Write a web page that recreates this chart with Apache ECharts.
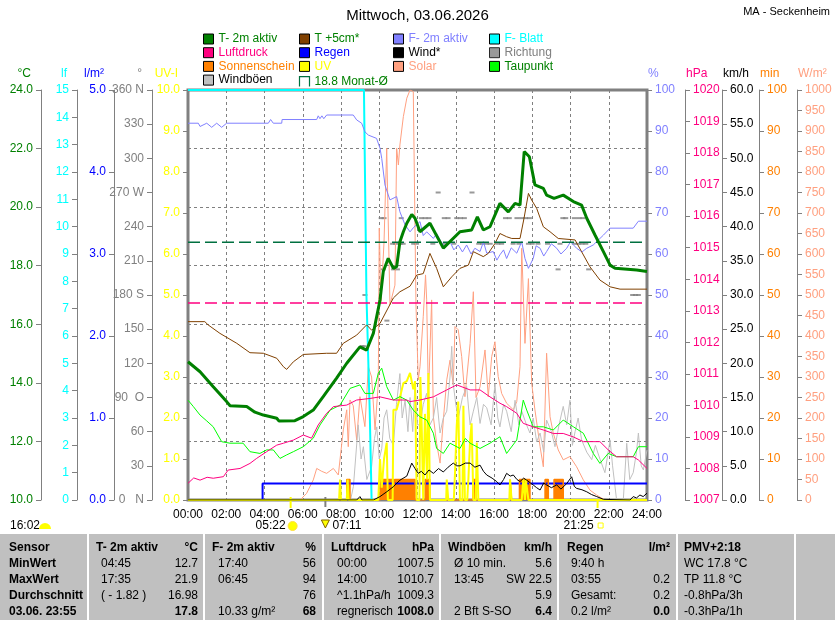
<!DOCTYPE html>
<html><head><meta charset="utf-8">
<script src="https://cdn.jsdelivr.net/npm/echarts@6/dist/echarts.min.js"></script>
<style>html,body{margin:0;padding:0;background:#fff}#c{width:835px;height:620px}</style>
</head><body><div id="c"></div>
<script>
// ---------------- data ----------------
const TITLE = 'Mittwoch, 03.06.2026';
const STATION = 'MA - Seckenheim';
const MONTH_AVG = 18.8;
const NORMAL_PRESSURE = 1013.25;
const SUNRISE = 5 + 22/60, MARK2 = 7 + 11/60, SUNSET = 21 + 25/60;
const SUN_TEXTS = {daylen:'16:02', rise:'05:22', mark2:'07:11', set:'21:25'};
const DIR_LABELS = {360:'360 N', 270:'270 W', 180:'180 S', 90:'90  O', 0:'0   N'};

const T2M = [[0,14.72],[0.63,14.38],[1.32,13.87],[2.02,13.36],[2.2,13.22],[3.07,13.19],[3.5,13.0],[3.94,12.9],[4.64,12.79],[4.75,12.7],[5.59,12.71],[6.03,12.85],[6.55,13.07],[7.07,13.53],[7.77,14.16],[8.3,14.67],[8.99,15.23],[9.34,15.12],[9.69,15.69],[10.04,16.83],[10.21,17.8],[10.47,18.25],[10.74,17.91],[10.91,17.97],[11.08,18.82],[11.26,19.16],[11.44,19.45],[11.7,19.75],[11.87,19.62],[12.13,19.16],[12.65,19.45],[13.35,18.6],[14.22,19.16],[14.83,19.22],[15.13,19.67],[15.44,19.22],[15.79,19.33],[16.31,20.13],[16.75,19.84],[17.1,20.13],[17.36,20.07],[17.58,21.9],[17.85,21.72],[18.14,20.76],[18.58,20.64],[18.75,20.41],[19.14,20.3],[19.62,20.41],[20.15,20.19],[20.58,20.07],[20.85,19.62],[21.28,19.05],[21.72,18.48],[22.07,18.02],[22.33,17.91],[23.46,17.85],[24,17.8]];
const T5CM = [[0,16.09],[0.88,16.09],[1.05,15.98],[1.67,15.69],[2.55,15.35],[3.24,15.03],[3.94,15.01],[4.64,14.84],[4.99,14.55],[5.16,14.46],[5.51,14.72],[6.03,14.97],[7.25,15.01],[7.77,15.01],[8.12,15.35],[8.82,15.63],[9.34,15.98],[9.6,15.8],[10.04,16.03],[10.74,16.9],[11.08,17.11],[11.61,17.3],[11.96,17.68],[12.3,17.73],[12.65,18.42],[13.0,17.91],[13.35,17.28],[13.79,17.62],[14.22,17.91],[14.66,18.02],[14.92,18.48],[15.44,18.31],[15.7,18.42],[16.05,18.76],[16.31,19.1],[16.66,18.99],[16.93,18.93],[17.36,18.93],[17.57,19.62],[17.8,20.47],[17.97,20.24],[18.23,19.96],[18.58,19.33],[18.93,19.16],[19.36,18.93],[20.24,18.88],[20.58,18.48],[21.02,17.96],[21.54,17.51],[22.07,17.28],[22.59,17.2],[24,17.2]];
const HUM = [[0,91.9],[0.54,91.9],[0.63,91.1],[0.98,91.9],[1.24,90.9],[1.5,91.9],[1.76,90.9],[2.02,91.9],[4.2,91.9],[4.32,92.8],[4.46,91.9],[4.9,91.9],[4.92,92.8],[6.73,92.8],[6.81,93.7],[6.9,93.0],[7.0,93.7],[7.1,93.0],[7.25,93.9],[8.64,93.9],[8.82,92.7],[9.08,91.9],[9.25,89.8],[9.43,89.0],[9.86,88.2],[10.04,85.8],[10.13,83.3],[10.3,76.8],[10.47,74.4],[10.56,73.2],[10.91,74.0],[11.08,70.3],[11.35,67.1],[11.61,65.4],[11.8,66.5],[12.13,67.9],[12.3,64.5],[12.48,65.4],[12.83,63.8],[13.0,65],[13.18,63.4],[13.45,61.5],[13.7,63.0],[13.9,61],[14.13,62.2],[14.35,60.5],[14.57,62.2],[14.8,60],[15.0,61.4],[15.27,60.6],[15.45,63],[15.62,60.2],[15.96,60.6],[16.15,58.5],[16.31,59.8],[16.5,61],[16.66,58.9],[16.9,61.5],[17.19,60.2],[17.45,63.0],[17.62,58.9],[17.8,56.5],[18.05,58.9],[18.2,62],[18.41,61.4],[18.6,59.5],[18.75,60.6],[19.0,62.5],[19.28,61.4],[19.5,60],[19.8,61.4],[20.0,63],[20.32,61.4],[20.6,60.5],[20.85,61.4],[21.19,62.2],[21.72,64.6],[22.07,66.3],[23.28,66.3],[23.55,68],[24,68]];
const PRESS = [[0,1007.53],[0.3,1007.7],[0.63,1007.63],[1.0,1007.72],[1.32,1007.69],[1.85,1007.74],[2.1,1007.95],[2.72,1008.0],[3.24,1008.16],[3.59,1008.32],[4.11,1008.53],[4.64,1008.74],[4.99,1008.8],[5.51,1008.9],[6.03,1009.06],[6.46,1008.96],[6.81,1009.38],[7.25,1009.75],[7.6,1009.96],[8.3,1010.01],[8.82,1010.17],[9.52,1010.22],[10.04,1010.27],[10.74,1010.17],[11.44,1010.17],[11.61,1010.12],[12.13,1010.17],[12.83,1010.27],[13.53,1010.49],[14.05,1010.65],[14.75,1010.49],[15.27,1010.49],[15.79,1010.27],[16.31,1010.07],[16.66,1009.96],[17.19,1009.75],[17.53,1009.43],[18.05,1009.32],[18.58,1009.22],[19.1,1009.11],[19.62,1009.11],[20.15,1009.0],[20.67,1008.85],[21.54,1008.85],[21.97,1008.59],[22.41,1008.37],[23.28,1008.37],[23.55,1008.27],[24,1008.0]];
const DEW = [[0,13.41],[0.28,13.19],[0.63,12.9],[0.98,12.7],[1.32,12.5],[1.76,11.99],[2.19,11.94],[2.88,11.94],[3.24,11.65],[3.76,11.59],[4.11,11.71],[4.46,11.71],[4.81,11.42],[5.16,11.54],[5.51,11.65],[6.03,11.82],[6.55,12.11],[6.9,12.56],[7.43,13.07],[7.95,13.24],[8.47,13.81],[8.99,13.93],[9.25,13.64],[9.69,13.64],[9.95,14.33],[10.13,14.5],[10.39,13.87],[10.74,13.41],[11.08,13.53],[11.44,13.41],[11.78,13.07],[12.13,12.84],[12.48,12.73],[12.83,12.28],[13.0,11.76],[13.35,11.59],[13.7,11.94],[14.22,11.76],[14.5,12.1],[14.75,11.94],[15.27,11.76],[15.79,11.94],[16.31,12.16],[16.66,11.59],[17.19,12.05],[17.53,13.41],[17.71,13.07],[18.05,12.5],[18.58,12.5],[19.1,12.39],[19.62,12.73],[20.15,12.5],[20.67,12.28],[21.19,11.59],[21.54,11.25],[21.97,11.59],[22.41,11.48],[23.28,11.48],[23.55,11.82],[24,11.82]];
const LEAF = [[0,15],[9.2,15],[9.33,7.5],[9.5,3.3],[9.6,0]];
const RAIN = [[0,0],[3.9,0],[3.9,0.2],[24,0.2]];
const WIND = [[0,0],[8.82,0],[8.99,0.5],[9.1,0],[9.69,0],[10.04,0.5],[10.39,1.2],[10.74,1.95],[11.08,2.9],[11.44,3.5],[11.7,5.4],[11.87,4.6],[12.04,3.9],[12.2,4.2],[12.39,3.66],[12.6,4.4],[12.83,3.9],[13.1,4.6],[13.35,4.1],[13.6,4.8],[13.87,5.4],[14.05,5.0],[14.22,5.0],[14.5,5.4],[14.75,5.4],[15.0,4.8],[15.27,5.1],[15.45,4.2],[15.62,3.66],[15.9,3.2],[16.14,2.7],[16.31,2.2],[16.5,3.0],[16.66,3.9],[16.85,3.5],[17.01,3.66],[17.2,3.0],[17.36,2.7],[17.55,3.2],[17.71,2.9],[17.9,2.5],[18.05,2.2],[18.23,1.8],[18.41,1.46],[18.6,2.5],[18.75,2.2],[19.0,1.8],[19.28,2.2],[19.5,1.6],[19.8,2.4],[20.06,3.4],[20.2,2.0],[20.32,1.7],[20.6,1.5],[20.85,1.2],[21.1,0.8],[21.37,0.5],[21.72,0.1],[23.11,0],[23.28,0.5],[23.45,0.3],[23.63,0.73],[23.8,0.5],[24,1.0]];
const GUST = [[0,0],[8.5,0],[8.65,2],[8.9,11],[9.05,6],[9.17,7.8],[9.35,3],[9.6,4.9],[9.75,9],[9.87,10.7],[10.0,6],[10.13,7.5],[10.25,12],[10.39,13.2],[10.55,9],[10.74,8],[10.9,14],[11.08,18.5],[11.2,12],[11.35,14.6],[11.5,10],[11.61,15],[11.75,10],[11.87,17],[12.0,11],[12.13,11],[12.3,14],[12.48,15.6],[12.65,11],[12.83,12],[13.0,15],[13.18,9.8],[13.35,12],[13.53,13],[13.7,18],[13.79,22.5],[13.87,17],[14.0,14],[14.13,12],[14.35,15],[14.57,16.6],[14.75,11],[14.92,13],[15.1,15],[15.27,11.2],[15.45,14],[15.62,13.5],[15.85,11],[16.05,17],[16.2,12],[16.31,10.7],[16.5,14],[16.66,13],[16.9,10],[17.1,14.6],[17.3,11],[17.45,13],[17.7,11],[17.88,9.8],[18.05,12],[18.23,8.5],[18.41,9.8],[18.6,7],[18.75,11.7],[19.0,10],[19.19,7.8],[19.4,11],[19.62,13.7],[19.8,11],[19.97,14.6],[20.1,8],[20.24,10],[20.4,12],[20.58,8.8],[20.85,7],[21.11,5.9],[21.3,8],[21.54,6],[21.8,4],[22.07,8.8],[22.2,5],[22.41,0],[22.76,0],[22.94,8.3],[23.1,3],[23.28,4],[23.45,7],[23.55,9.8],[23.7,5],[23.81,4.4],[24,7.3]];
const SOLAR = [[0,0],[5.86,0],[6.2,16],[6.55,49],[6.73,77],[6.99,70],[7.25,65],[7.6,77],[7.86,61],[8.12,171],[8.3,220],[8.38,130],[8.47,244],[8.64,230],[8.82,146],[8.99,252],[9.25,179],[9.43,325],[9.6,300],[9.78,171],[9.95,285],[10.0,663],[10.09,484],[10.25,630],[10.39,858],[10.56,476],[10.82,524],[10.91,858],[11.0,817],[11.08,866],[11.26,935],[11.44,980],[11.61,1000],[11.78,996],[11.87,1000],[11.92,476],[12.04,293],[12.13,325],[12.3,447],[12.42,549],[12.48,488],[12.57,250],[12.74,488],[12.83,203],[13.0,138],[13.18,90],[13.35,195],[13.53,293],[13.7,341],[13.87,280],[13.96,423],[14.13,415],[14.31,350],[14.48,252],[14.75,382],[14.92,508],[15.06,250],[15.27,276],[15.53,366],[15.7,252],[15.88,350],[16.05,386],[16.22,301],[16.4,260],[16.66,236],[17.01,220],[17.19,240],[17.36,325],[17.45,614],[17.62,382],[17.8,540],[17.97,285],[18.14,220],[18.41,130],[18.58,81],[18.75,358],[18.93,203],[19.1,163],[19.36,122],[19.62,98],[19.97,106],[20.32,81],[20.67,49],[21.02,24],[21.37,12],[21.72,2],[21.9,0],[24,0]];
const UVI = [[0,0],[7.9,0],[7.95,0.5],[8.0,0],[8.3,0],[8.35,0.5],[8.4,0],[9.95,0],[10.04,1.0],[10.13,0.3],[10.25,1.0],[10.39,1.4],[10.45,0],[10.7,0],[10.74,2.2],[10.91,2.2],[11.08,2.5],[11.26,2.85],[11.44,2.9],[11.61,3.1],[11.78,2.7],[11.87,2.9],[11.96,0],[12.1,0],[12.15,3.0],[12.22,1.8],[12.3,0],[12.39,2.1],[12.5,0.5],[12.57,3.1],[12.65,0],[13.5,0],[13.53,0.5],[13.61,0],[13.9,0],[13.96,0.65],[14.05,1.8],[14.13,2.4],[14.22,0],[14.35,0],[14.4,2.3],[14.48,0],[14.6,0],[14.66,0.5],[14.75,1.46],[14.83,1.87],[14.92,0],[15.05,0],[15.1,1.4],[15.18,0],[16.8,0],[16.84,0.5],[16.92,0],[17.45,0],[17.53,0.5],[17.62,0],[17.66,0.5],[17.75,0.5],[17.8,0],[24,0]];
const SUNSHINE = [[0,0],[8.3,5],[8.47,0],[10.04,5],[10.74,0],[10.8,5],[11.87,0],[12.4,5],[12.65,0],[14.9,5],[15.06,0],[16.84,5],[16.92,0],[17.33,5],[17.88,0],[18.67,5],[18.84,0],[19.14,5],[19.62,0],[24,0]];
const DIRECTION = [[9.1,135],[9.2,135],[9.25,180],[10.1,247.5],[10.25,247.5],[10.2,202.5],[10.4,157.5],[10.7,225],[10.85,225],[10.75,202.5],[10.95,202.5],[11.15,247.5],[11.1,225],[11.25,225],[11.8,225],[11.95,225],[12.2,247.5],[12.4,247.5],[12.6,247.5],[12.8,225],[13.08,270],[13.4,247.5],[13.6,247.5],[13.45,225],[13.9,225],[14.05,247.5],[14.25,247.5],[14.45,247.5],[14.85,270],[15.2,225],[15.4,225],[15.6,225],[15.8,225],[16.2,225],[16.4,225],[16.6,247.5],[16.8,247.5],[17.0,225],[17.2,247.5],[17.3,225],[17.45,247.5],[17.65,247.5],[17.8,225],[17.85,247.5],[18.0,225],[18.3,225],[18.8,225],[19.35,202.5],[19.45,225],[19.6,247.5],[19.75,247.5],[20.2,247.5],[20.45,247.5],[20.65,247.5],[20.2,225],[20.4,225],[20.6,225],[20.8,225],[20.95,202.5],[23.25,180],[23.4,180],[23.55,180]];

const TABLE_HEAD = ['Sensor','T- 2m aktiv','°C','F- 2m aktiv','%','Luftdruck','hPa','Windböen','km/h','Regen','l/m²','PMV+2:18'];
const TABLE_ROWS = [
  ['MinWert','04:45','12.7','17:40','56','00:00','1007.5','Ø 10 min.','5.6','9:40 h','','WC 17.8 °C'],
  ['MaxWert','17:35','21.9','06:45','94','14:00','1010.7','13:45','SW 22.5','03:55','0.2','TP 11.8 °C'],
  ['Durchschnitt','( - 1.82 )','16.98','','76','^1.1hPa/h','1009.3','','5.9','Gesamt:','0.2','-0.8hPa/3h'],
  ['03.06. 23:55','','17.8','10.33 g/m²','68','regnerisch','1008.0','2 Bft S-SO','6.4','0.2 l/m²','0.0','-0.3hPa/1h']
];

// ---------------- styles ----------------
const FONT = '"Liberation Sans", Arial, sans-serif';
const COL = {t2m:'#008000', t5:'#804000', hum:'#8080ff', leaf:'#00ffff', press:'#ff0080', rain:'#0000ff',
  wind:'#000000', dir:'#808080', sun:'#ff8000', uv:'#ffff00', solar:'#ffa080', dew:'#00ff00', gust:'#c0c0c0', avg:'#007040', text:'#008000'};
const AVG_NAME = MONTH_AVG.toFixed(1) + ' Monat-Ø';

function yAx(name, pos, offset, min, max, interval, color, fmt) {
  const left = pos === 'left';
  return {
    type:'value', name, position:pos, offset, min, max, interval,
    nameLocation:'end', nameGap:10,
    nameTextStyle:{color, fontFamily:FONT, fontSize:12, align: left ? 'right' : 'left', padding: left ? [0,10,0,0] : [0,0,0,1]},
    axisLine:{show:true, onZero:false, lineStyle:{color:'#808080', width:1}},
    axisTick:{show:true, length:5, lineStyle:{color:'#808080'}},
    axisLabel:{color, fontFamily:FONT, fontSize:12, margin:8, formatter:fmt},
    splitLine:{show:false}
  };
}
const f1 = v => v.toFixed(1), f0 = v => String(v);
const yAxes = [
  yAx('°C','left',147,10,24,2,COL.t2m,f1),
  yAx('lf','left',111,0,15,1,COL.leaf,f0),
  yAx('l/m²','left',74,0,5,1,COL.rain,f1),
  yAx('°','left',36,0,360,30,'#808080', v => DIR_LABELS[v] !== undefined ? DIR_LABELS[v] : String(v)),
  yAx('UV-I','left',0,0,10,1,COL.uv,f1),
  yAx('%','right',0,0,100,10,COL.hum,f0),
  yAx('hPa','right',38,1007,1020,1,COL.press,f0),
  yAx('km/h','right',75,0,60,5,'#000000',f1),
  yAx('min','right',112,0,100,10,COL.sun,f0),
  yAx('W/m²','right',150,0,1000,50,COL.solar,f0)
];
yAxes[0].splitLine = {show:true, lineStyle:{color:'#808080', type:[3,3], width:1}};

function ln(name, yi, data, color, width, extra) {
  return Object.assign({type:'line', name, yAxisIndex:yi, data, symbol:'none', showSymbol:false,
    lineStyle:{color, width}, itemStyle:{color}, emphasis:{disabled:true}, silent:true, animation:false}, extra || {});
}

const series = [
  ln('Solar',9,SOLAR,COL.solar,1),
  ln('Windböen',7,GUST,COL.gust,1),
  ln('F- Blatt',1,LEAF,COL.leaf,2,{clip:false}),
  ln('Regen',2,RAIN,COL.rain,2),
  ln('Sonnenschein',8,SUNSHINE,COL.sun,1.5,{step:'end', areaStyle:{color:COL.sun, opacity:1}}),
  ln('UV',4,UVI,COL.uv,2),
  ln('Wind*',7,WIND,COL.wind,1),
  {type:'scatter', name:'Richtung', yAxisIndex:3, data:DIRECTION, symbol:'rect', symbolSize:[5,2], itemStyle:{color:COL.dir}, silent:true, animation:false},
  ln('Taupunkt',0,DEW,COL.dew,1),
  ln('Luftdruck',6,PRESS,COL.press,1),
  ln('Normaldruck',6,[[0,NORMAL_PRESSURE],[24,NORMAL_PRESSURE]],COL.press,1.5,{lineStyle:{color:COL.press,width:1.5,type:[12,5]}}),
  ln('F- 2m aktiv',5,HUM,COL.hum,1),
  ln('T +5cm*',0,T5CM,COL.t5,1),
  ln(AVG_NAME,0,[[0,MONTH_AVG],[24,MONTH_AVG]],COL.avg,1.5,{lineStyle:{color:COL.avg,width:1.5,type:[12,5]}}),
  ln('T- 2m aktiv',0,T2M,COL.t2m,3)
];

const LEG_TEXT = {'T- 2m aktiv':COL.t2m,'T +5cm*':COL.text,'F- 2m aktiv':COL.hum,'F- Blatt':COL.leaf,
  'Luftdruck':COL.press,'Regen':COL.rain,'Wind*':'#000','Richtung':'#808080',
  'Sonnenschein':COL.sun,'UV':COL.uv,'Solar':COL.solar,'Taupunkt':COL.text,'Windböen':'#000'};
LEG_TEXT[AVG_NAME] = COL.text;
const LEG_MARK = {'T- 2m aktiv':COL.t2m,'T +5cm*':COL.t5,'F- 2m aktiv':COL.hum,'F- Blatt':COL.leaf,
  'Luftdruck':COL.press,'Regen':COL.rain,'Wind*':'#000','Richtung':'#808080',
  'Sonnenschein':COL.sun,'UV':COL.uv,'Solar':COL.solar,'Taupunkt':COL.dew,'Windböen':COL.gust};
const LEGEND_COLS = [
  ['T- 2m aktiv','Luftdruck','Sonnenschein','Windböen'],
  ['T +5cm*','Regen','UV',AVG_NAME],
  ['F- 2m aktiv','Wind*','Solar'],
  ['F- Blatt','Richtung','Taupunkt']
];
const LEGEND_X = [198,292,388,484];
const legends = LEGEND_COLS.map((names,i) => ({
  orient:'vertical', left:LEGEND_X[i], top:28, itemWidth:10, itemHeight:10, itemGap:1.7,
  selectedMode:false, icon:'rect', textStyle:{fontFamily:FONT, fontSize:12, lineHeight:12},
  data: names.map(n => n === AVG_NAME
    ? {name:n, icon:'path://M0,10L0,0L10,0L10,10', itemStyle:{color:'none', borderColor:COL.avg, borderWidth:1.2}, textStyle:{color:LEG_TEXT[n]}}
    : {name:n, itemStyle:{color:LEG_MARK[n], borderColor:'#000', borderWidth:1}, textStyle:{color:LEG_TEXT[n]}})
}));

const chart = echarts.init(document.getElementById('c'), null, {renderer:'canvas'});
chart.setOption({
  animation:false,
  backgroundColor:'#fff',
  textStyle:{fontFamily:FONT},
  title:{text:TITLE, left:'center', top:3, textStyle:{fontFamily:FONT, fontSize:15, fontWeight:'normal', color:'#000'}},
  legend:legends,
  grid:{left:188, right:188, top:90, bottom:120, show:true, borderColor:'#808080', borderWidth:3, backgroundColor:'#fff'},
  xAxis:{type:'value', min:0, max:24, interval:2,
    axisLine:{onZero:false, lineStyle:{color:'#808080', width:2}}, axisTick:{show:false},
    axisLabel:{color:'#000', fontFamily:FONT, fontSize:12, margin:9, formatter: v => (v < 10 ? '0' : '') + v + ':00'},
    splitLine:{show:true, lineStyle:{color:'#808080', type:[3,3], width:1}}},
  yAxis:yAxes,
  series
});

// ---------------- decorations (positions from the axis scale) ----------------
const px = h => chart.convertToPixel({xAxisIndex:0}, h);
const g = [];
const txt = (text, x, y, o) => g.push(Object.assign({type:'text', x, y, silent:true,
  style:Object.assign({text, fill:'#000', font:'12px ' + FONT, align:'left', verticalAlign:'middle'}, o || {})}));
txt(STATION, 830, 12, {align:'right', font:'11px ' + FONT});

const xr = px(SUNRISE), xm = px(MARK2), xs = px(SUNSET);
g.push({type:'line', silent:true, shape:{x1:xr, y1:497, x2:xr, y2:508}, style:{stroke:COL.uv, lineWidth:2}});
g.push({type:'line', silent:true, shape:{x1:xm, y1:497, x2:xm, y2:507}, style:{stroke:'#808080', lineWidth:2}});
g.push({type:'line', silent:true, shape:{x1:xs, y1:500, x2:xs, y2:508}, style:{stroke:COL.uv, lineWidth:2}});
txt(SUN_TEXTS.rise, xr - 5, 526, {align:'right'});
g.push({type:'circle', silent:true, shape:{cx:xr + 2, cy:526, r:4.5}, style:{fill:'#ffff00', stroke:'#ffe040', lineWidth:1}});
g.push({type:'polygon', silent:true, shape:{points:[[xm - 4, 520], [xm + 4, 520], [xm, 528]]}, style:{fill:'#ffff00', stroke:'#806000', lineWidth:1}});
txt(SUN_TEXTS.mark2, xm + 7, 526);
txt(SUN_TEXTS.set, xs - 4, 526, {align:'right'});
g.push({type:'rect', silent:true, shape:{x:xs + 0.5, y:523, width:5, height:5}, style:{fill:'none', stroke:'#ffff00', lineWidth:1}});
txt(SUN_TEXTS.daylen, 10, 526);
g.push({type:'sector', silent:true, shape:{cx:45, cy:529, r0:0, r:6, startAngle:Math.PI, endAngle:2 * Math.PI}, style:{fill:'#ffff00'}});

// table
g.push({type:'rect', silent:true, shape:{x:0, y:534, width:835, height:86}, style:{fill:'#c0c0c0'}});
[88,204,323,440,558,677,795].forEach(x => g.push({type:'line', silent:true, shape:{x1:x, y1:534, x2:x, y2:620}, style:{stroke:'#ffffff', lineWidth:2}}));
const HEAD_X = [9,96,198,212,316,331,434,448,552,567,670,684];
const CELL_X = [9,101,198,218,316,337,434,454,552,571,670,684];
const RIGHT = [false,false,true,false,true,false,true,false,true,false,true,false];
const ROW_Y = [548,564,580,596,612];
TABLE_HEAD.forEach((t,i) => txt(t, HEAD_X[i], ROW_Y[0], {align:RIGHT[i] ? 'right' : 'left', font:'bold 12px ' + FONT}));
TABLE_ROWS.forEach((row,r) => row.forEach((t,i) => {
  if (!t) return;
  const bold = i === 0 || (r === 3 && RIGHT[i]);
  txt(t, CELL_X[i], ROW_Y[r + 1], {align:RIGHT[i] ? 'right' : 'left', font:(bold ? 'bold ' : '') + '12px ' + FONT});
}));
chart.setOption({graphic:g});
</script>
</body></html>
